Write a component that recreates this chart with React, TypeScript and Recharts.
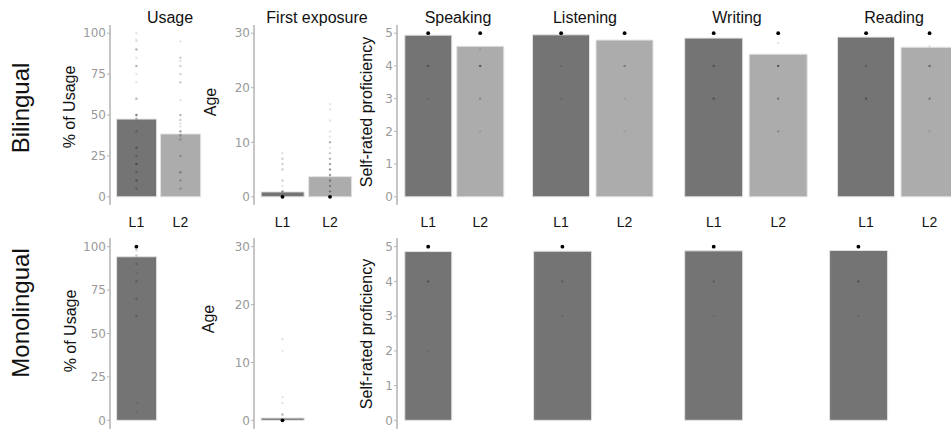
import * as React from "react"
import { ComposedChart, Bar, Scatter, XAxis, YAxis, Cell } from "recharts"

const langs = ["L1", "L2"]

// bar heights (group means)
const biUsage = [47.5, 38.4]
const biFirstAge = [0.9, 3.7]
const biSpeaking = [4.94, 4.6]
const biListening = [4.95, 4.79]
const biWriting = [4.85, 4.36]
const biReading = [4.88, 4.57]

const monoUsage = [94.2]
const monoFirstAge = [0.4]
const monoSpeaking = [4.86]
const monoListening = [4.87]
const monoWriting = [4.88]
const monoReading = [4.89]

// individual responses: [value, number of participants]
type Dot = [number, number]
const biUsageL1: Dot[] = [[100, 1], [96, 1], [95, 1], [90, 3], [85, 1], [80, 3], [75, 1], [70, 1], [60, 3], [50, 5], [48, 2], [47, 1], [40, 2], [30, 3], [25, 2], [20, 4], [15, 2], [10, 3], [5, 2]]
const biUsageL2: Dot[] = [[95, 1], [85, 2], [83, 1], [80, 2], [75, 2], [70, 2], [59, 1], [50, 3], [47, 2], [45, 1], [43, 1], [40, 4], [38, 2], [37, 1], [35, 2], [25, 2], [15, 3], [10, 2], [5, 2]]
const biAgeL1: Dot[] = [[8, 1], [7, 2], [6, 2], [5, 2], [3, 2], [2, 1], [1, 4], [0, 30]]
const biAgeL2: Dot[] = [[17, 1], [16, 1], [14, 1], [12, 1], [11, 1], [10, 3], [9, 1], [8, 2], [7, 3], [6, 4], [5, 4], [4, 4], [3, 3], [2, 3], [1, 3], [0, 20]]
const biSpeakL1: Dot[] = [[5, 40], [4, 3], [3, 1]]
const biSpeakL2: Dot[] = [[5, 30], [4.5, 1], [4, 5], [3, 2], [2, 1]]
const biListenL1: Dot[] = [[5, 40], [4, 1], [3, 1]]
const biListenL2: Dot[] = [[5, 35], [4, 3], [3, 1], [2, 1]]
const biWriteL1: Dot[] = [[5, 35], [4, 3], [3, 3]]
const biWriteL2: Dot[] = [[5, 25], [4.7, 1], [4, 5], [3, 3], [2, 2]]
const biReadL1: Dot[] = [[5, 35], [4, 2], [3, 3]]
const biReadL2: Dot[] = [[5, 28], [4.6, 1], [4, 4], [3, 3], [2, 1]]

const monoUsageL1: Dot[] = [[100, 20], [98, 2], [95, 2], [90, 2], [85, 1], [80, 2], [70, 2], [60, 2], [10, 1], [5, 1]]
const monoAgeL1: Dot[] = [[0, 25], [1, 3], [3, 1], [4, 1], [12, 1], [14, 1]]
const monoSpeakL1: Dot[] = [[5, 20], [4, 3], [2, 1]]
const monoListenL1: Dot[] = [[5, 20], [4, 2], [3, 1]]
const monoWriteL1: Dot[] = [[5, 20], [4, 2], [3, 1]]
const monoReadL1: Dot[] = [[5, 20], [4, 3], [3, 1]]

const usageTicks = [0, 25, 50, 75, 100]
const ageTicks = [0, 10, 20, 30]
const profTicks = [0, 1, 2, 3, 4, 5]

const barColors = ["#747474", "#acacac"]
const sans = "'Liberation Sans', Arial, Helvetica, sans-serif"

type PanelProps = {
  axisX: number
  top: number
  height: number
  unit: number
  domain: [number, number]
  ticks: number[]
  means: number[]
  dots: Dot[][]
  showY: boolean
  showX: boolean
}

const renderDot = (p: any) => {
  const n = p.payload?.n ?? 1
  if (p.cx == null || p.cy == null) return <g />
  return <circle cx={p.cx} cy={p.cy} r={n >= 8 ? 1.9 : 1.2} fill="#000" fillOpacity={Math.min(1, 0.1 * n)} />
}

const Panel = (props: PanelProps) => {
  const { axisX, top, height, unit, domain, ticks, means, dots, showY, showX } = props
  const yW = showY ? 40 : 0
  const xH = showX ? 30 : 0
  const data = langs.map((lang, i) => ({ lang, mean: means[i] ?? null }))
  const points = dots.flatMap((list, i) => list.map(([v, n]) => ({ lang: langs[i], v, n })))
  return (
    <div style={{ position: "absolute", left: axisX - yW, top }}>
      <ComposedChart width={yW + 2.2 * unit} height={height + xH} data={data}
        margin={{ top: 0, right: 0, bottom: 0, left: 0 }} barCategoryGap="5%">
        <XAxis dataKey="lang" type="category" allowDuplicatedCategory={false}
          padding={{ left: unit * 0.1, right: unit * 0.1 }} hide={!showX} height={xH}
          axisLine={false} tickLine={false} tickSize={0} tickMargin={12} interval={0}
          tick={{ fill: "#111", fontSize: 14, fontFamily: sans }} />
        <YAxis type="number" domain={domain} ticks={ticks} allowDataOverflow hide={!showY} width={yW}
          interval={0} axisLine={{ stroke: "#b3b3b3", strokeWidth: 1.5 }} tickLine={{ stroke: "#b3b3b3" }}
          tickSize={3} tickMargin={1} tick={{ fill: "#999", fontSize: 12, fontFamily: "'DejaVu Sans', sans-serif" }} />
        <Bar dataKey="mean" isAnimationActive={false} stroke="#e2e2e2" strokeWidth={1}>
          {data.map((d, i) => <Cell key={d.lang} fill={barColors[i]} />)}
        </Bar>
        <Scatter data={points} dataKey="v" isAnimationActive={false} shape={renderDot} />
      </ComposedChart>
    </div>
  )
}

const topRow = { top: 25, height: 180 }
const botRow = { top: 238, height: 191 }

const usageDomain: [number, number] = [-5, 105]
const ageDomain: [number, number] = [-1.5, 31.5]
const profDomain: [number, number] = [-0.25, 5.25]

const titles = [
  { text: "Usage", x: 170 },
  { text: "First exposure", x: 317 },
  { text: "Speaking", x: 458 },
  { text: "Listening", x: 585 },
  { text: "Writing", x: 737 },
  { text: "Reading", x: 894 },
]

const axisTitles = [
  { text: "% of Usage", x: 75, y: 107 },
  { text: "Age", x: 216, y: 102 },
  { text: "Self-rated proficiency", x: 372, y: 112 },
  { text: "% of Usage", x: 76, y: 331 },
  { text: "Age", x: 214, y: 319 },
  { text: "Self-rated proficiency", x: 372, y: 334 },
]

export default function App() {
  return (
    <div style={{ position: "absolute", left: 0, top: 0, width: 951, height: 430, overflow: "hidden", background: "#fff" }}>
      <Panel axisX={110} {...topRow} unit={44} domain={usageDomain} ticks={usageTicks} means={biUsage} dots={[biUsageL1, biUsageL2]} showY showX />
      <Panel axisX={254} {...topRow} unit={47.5} domain={ageDomain} ticks={ageTicks} means={biFirstAge} dots={[biAgeL1, biAgeL2]} showY showX />
      <Panel axisX={397} {...topRow} unit={52} domain={profDomain} ticks={profTicks} means={biSpeaking} dots={[biSpeakL1, biSpeakL2]} showY showX />
      <Panel axisX={523} {...topRow} unit={63.5} domain={profDomain} ticks={profTicks} means={biListening} dots={[biListenL1, biListenL2]} showY={false} showX />
      <Panel axisX={675} {...topRow} unit={64.5} domain={profDomain} ticks={profTicks} means={biWriting} dots={[biWriteL1, biWriteL2]} showY={false} showX />
      <Panel axisX={828} {...topRow} unit={63.5} domain={profDomain} ticks={profTicks} means={biReading} dots={[biReadL1, biReadL2]} showY={false} showX />

      <Panel axisX={110} {...botRow} unit={44} domain={usageDomain} ticks={usageTicks} means={monoUsage} dots={[monoUsageL1]} showY showX={false} />
      <Panel axisX={254} {...botRow} unit={47.5} domain={ageDomain} ticks={ageTicks} means={monoFirstAge} dots={[monoAgeL1]} showY showX={false} />
      <Panel axisX={397} {...botRow} unit={52} domain={profDomain} ticks={profTicks} means={monoSpeaking} dots={[monoSpeakL1]} showY showX={false} />
      <Panel axisX={524} {...botRow} unit={64} domain={profDomain} ticks={profTicks} means={monoListening} dots={[monoListenL1]} showY={false} showX={false} />
      <Panel axisX={675} {...botRow} unit={64.5} domain={profDomain} ticks={profTicks} means={monoWriting} dots={[monoWriteL1]} showY={false} showX={false} />
      <Panel axisX={820} {...botRow} unit={64} domain={profDomain} ticks={profTicks} means={monoReading} dots={[monoReadL1]} showY={false} showX={false} />

      <svg width={951} height={430} style={{ position: "absolute", left: 0, top: 0, pointerEvents: "none" }}>
        {titles.map(t => (
          <text key={t.text} x={t.x} y={22.5} textAnchor="middle" fontSize={16} fontFamily={sans} fill="#111">{t.text}</text>
        ))}
        {axisTitles.map((t, i) => (
          <text key={i} transform={`translate(${t.x},${t.y}) rotate(-90)`} textAnchor="middle" fontSize={16} fontFamily={sans} fill="#111">{t.text}</text>
        ))}
        <text transform="translate(29,108) rotate(-90)" textAnchor="middle" fontSize={24} fontFamily={sans} fill="#111">Bilingual</text>
        <text transform="translate(29,313) rotate(-90)" textAnchor="middle" fontSize={24} fontFamily={sans} fill="#111">Monolingual</text>
      </svg>
    </div>
  )
}
